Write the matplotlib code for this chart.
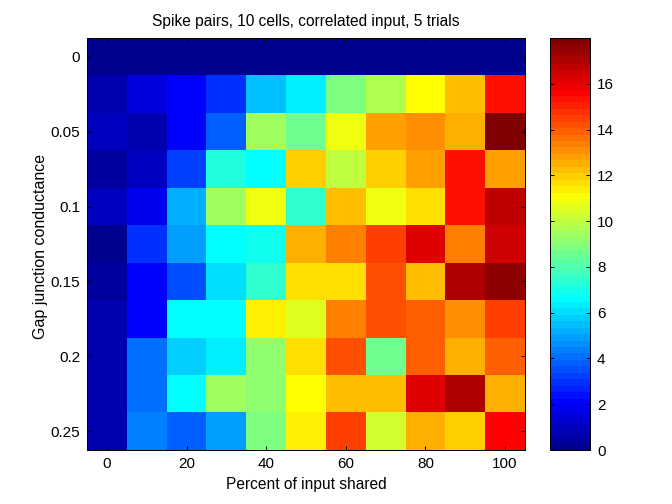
import numpy as np
import matplotlib
matplotlib.use("Agg")
import matplotlib.pyplot as plt
from matplotlib.colors import ListedColormap

plt.rcParams['font.family'] = ['Liberation Sans', 'DejaVu Sans']

percent = [0, 10, 20, 30, 40, 50, 60, 70, 80, 90, 100]
conductance = [0, 0.025, 0.05, 0.075, 0.1, 0.125, 0.15, 0.175, 0.2, 0.225, 0.25]
r0 = [0, 0, 0, 0, 0, 0, 0, 0, 0, 0, 0]
r1 = [0.70, 1.55, 2.11, 2.95, 5.48, 6.33, 8.86, 9.70, 11.11, 12.23, 15.33]
r2 = [0.98, 0.70, 2.11, 3.80, 9.42, 8.58, 10.83, 12.80, 13.08, 12.52, 17.86]
r3 = [0.42, 0.98, 3.23, 7.17, 6.61, 11.95, 9.98, 11.95, 12.80, 15.33, 12.80]
r4 = [0.98, 1.83, 5.20, 9.42, 10.83, 7.45, 12.23, 10.83, 11.67, 15.33, 16.73]
r5 = [0.14, 2.95, 4.92, 6.61, 6.89, 12.52, 13.36, 14.48, 16.17, 13.36, 16.45]
r6 = [0.42, 2.11, 3.52, 6.05, 7.45, 11.67, 11.67, 14.20, 12.23, 17.02, 17.58]
r7 = [0.70, 2.11, 6.61, 6.61, 11.39, 10.55, 13.36, 14.20, 13.92, 13.08, 14.48]
r8 = [0.70, 4.08, 5.77, 6.33, 9.14, 11.67, 14.20, 8.58, 13.92, 12.52, 13.92]
r9 = [0.70, 4.08, 6.61, 9.42, 9.14, 11.11, 12.23, 12.23, 16.17, 17.02, 12.52]
r10 = [0.70, 4.36, 3.80, 4.92, 8.86, 11.39, 14.48, 10.27, 12.52, 11.95, 15.61]
values = np.array([r0, r1, r2, r3, r4, r5, r6, r7, r8, r9, r10])
x_ticks = [0, 20, 40, 60, 80, 100]
y_ticks = [0, 0.05, 0.1, 0.15, 0.2, 0.25]
y_labels = ['0', '0.05', '0.1', '0.15', '0.2', '0.25']
cbar_ticks = [0, 2, 4, 6, 8, 10, 12, 14, 16]
color_max = 18

# 64-level jet with the classic stepped ramp
idx = np.arange(64)
red = np.interp(idx, [23, 39, 55, 63], [0, 1, 1, 0.5])
green = np.interp(idx, [7, 23, 39, 55], [0, 1, 1, 0])
blue = np.interp(idx, [0, 7, 23, 39], [0.5625, 1, 1, 0])
cmap = ListedColormap(np.column_stack([red, green, blue]))

W, H = 672, 504
fig = plt.figure(figsize=(W / 100, H / 100), dpi=100, facecolor='white')
ax = fig.add_axes([87 / W, 1 - 450 / H, (525 - 87) / W, (450 - 38) / H])
dx = (percent[1] - percent[0]) / 2
dy = (conductance[1] - conductance[0]) / 2
im = ax.imshow(values, cmap=cmap, vmin=0, vmax=color_max, aspect='auto',
               interpolation='nearest', origin='upper',
               extent=[percent[0] - dx, percent[-1] + dx, conductance[-1] + dy, conductance[0] - dy])
ax.set_xticks(x_ticks)
ax.set_yticks(y_ticks)
ax.set_yticklabels(y_labels)
ax.tick_params(direction='in', length=3.2, width=0.72, labelsize=11, top=True, right=True, pad=5)
ax.set_xlabel('Percent of input shared', fontsize=11.2, labelpad=4)
ax.set_ylabel('Gap junction conductance', fontsize=11.5, labelpad=2, y=0.495)
ax.set_title('Spike pairs, 10 cells, correlated input, 5 trials', fontsize=11.2, pad=9)
for s in ax.spines.values():
    s.set_linewidth(0.72)

cax = fig.add_axes([550 / W, 1 - 450 / H, 40 / W, (450 - 38) / H])
cb = fig.colorbar(im, cax=cax)
cb.set_ticks(cbar_ticks)
cb.ax.tick_params(direction='in', length=3.2, width=0.72, labelsize=11, left=True, right=True, pad=5)
cb.outline.set_linewidth(0.72)

fig.savefig('out.png', dpi=100)
